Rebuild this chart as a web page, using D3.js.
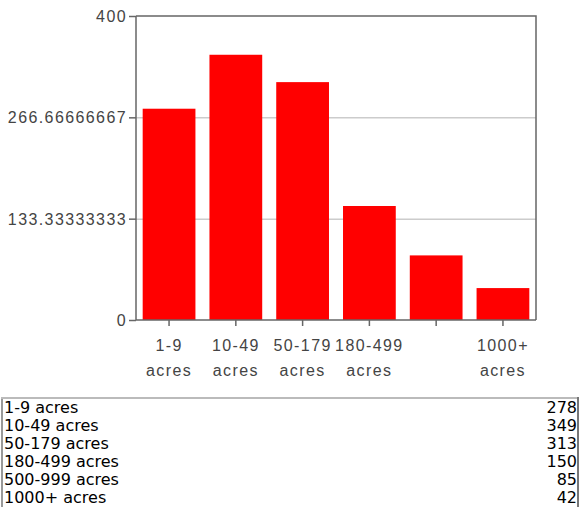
<!DOCTYPE html>
<meta charset="utf-8">
<style>
    body { margin: 0; background: #fff; }
    .axis text { font-family: "Liberation Sans", Arial, sans-serif; font-size: 16px; letter-spacing: 1.4px; fill: #444; }
    .axis path, .axis line { stroke: #666; stroke-width: 1.5px; }
    .grid line { stroke: #ccc; stroke-width: 1.5px; }
    .grid path { display: none; }
    table.vals {
        position: absolute; left: 1px; top: 397px; width: 578px;
        border-collapse: collapse;
        border-top: 2px solid #bbb; border-left: 2px solid #999; border-right: 2px solid #777;
        font-family: "DejaVu Sans", Verdana, sans-serif; font-size: 16px; color: #000;
    }
    table.vals td { padding: 0 0 0 1px; line-height: 18px; height: 18px; }
    table.vals td.n { text-align: right; padding-right: 0; }
</style>
<body>
<svg width="581" height="395"></svg>
<table class="vals"></table>
<script src="https://d3js.org/d3.v7.min.js"></script>
<script>
    var categories = ["1-9 acres", "10-49 acres", "50-179 acres", "180-499 acres", "500-999 acres", "1000+ acres"];
    var values = [278, 349, 313, 150, 85, 42];
    var yTicks = [0, 133.33333333, 266.66666667, 400];
    var yTickLabels = ["0", "133.33333333", "266.66666667", "400"];
    // labels drawn under the axis (the 500-999 one is dropped in the original)
    var xLabelShown = [true, true, true, true, false, true];

    var svg = d3.select("svg"),
        margin = {top: 16, left: 136, right: 45},
        width = 400,
        height = 304;

    var x = d3.scaleBand().domain(categories).range([0, width]).paddingInner(0.21).paddingOuter(0.1);
    var y = d3.scaleLinear().domain([0, 400]).range([height, 0]);

    var g = svg.append("g").attr("transform", "translate(" + margin.left + "," + margin.top + ")");

    g.append("g")
        .attr("class", "grid")
        .call(d3.axisLeft(y).tickValues(yTicks.slice(1, 3)).tickSize(-width).tickFormat(""));

    g.selectAll(".bar")
        .data(values)
        .enter().append("rect")
        .attr("class", "bar")
        .attr("x", function(d, i) { return x(categories[i]); })
        .attr("width", x.bandwidth())
        .attr("y", function(d) { return y(d); })
        .attr("height", function(d) { return height - y(d); })
        .attr("fill", "#ff0000");

    // frame top and right
    g.append("path")
        .attr("d", "M0,0H" + width + "V" + height)
        .attr("fill", "none")
        .attr("stroke", "#666")
        .attr("stroke-width", 1.5);

    var yAxis = g.append("g")
        .attr("class", "axis")
        .call(d3.axisLeft(y).tickValues(yTicks).tickSize(7).tickSizeOuter(0)
            .tickFormat(function(d, i) { return yTickLabels[i]; }));
    yAxis.select(".domain").remove();
    g.append("line").attr("x1", 0).attr("x2", 0).attr("y1", 0).attr("y2", height)
        .attr("stroke", "#666").attr("stroke-width", 1.5);
    yAxis.selectAll("text").attr("x", -9).attr("dy", "0.35em");

    var xAxis = g.append("g")
        .attr("class", "axis")
        .attr("transform", "translate(0," + height + ")")
        .call(d3.axisBottom(x).tickSize(6).tickSizeOuter(0).tickFormat(""));
    xAxis.select(".domain").attr("d", "M0,0H" + width);
    xAxis.selectAll(".tick").each(function(d, i) {
        if (!xLabelShown[i]) return;
        var parts = d.split(" ");
        var t = d3.select(this).append("text").attr("text-anchor", "middle");
        t.append("tspan").attr("x", 0).attr("y", 31).text(parts[0]);
        t.append("tspan").attr("x", 0).attr("y", 56).text(parts[1]);
    });

    var rows = d3.select("table.vals").selectAll("tr")
        .data(categories)
        .enter().append("tr");
    rows.append("td").text(function(d) { return d; });
    rows.append("td").attr("class", "n").text(function(d, i) { return values[i]; });
</script>
</body>
